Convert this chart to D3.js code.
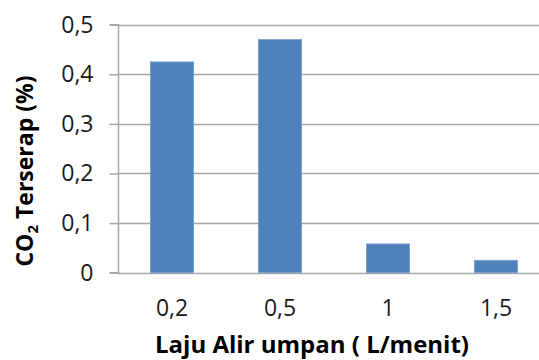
<!DOCTYPE html>
<html>
<head>
<meta charset="utf-8">
<script src="https://cdn.jsdelivr.net/npm/d3@7"></script>
<style>
  html, body { margin: 0; padding: 0; background: #fff; }
  svg { display: block; }
</style>
</head>
<body>
<svg id="chart" width="539" height="360"></svg>
<script>
// Flow rate categories (L/menit) and absorbed CO2 (%)
const categories = ["0,2", "0,5", "1", "1,5"];
const values = [0.425, 0.47, 0.058, 0.025];
const yTicks = [0, 0.1, 0.2, 0.3, 0.4, 0.5];
const yTickLabels = ["0", "0,1", "0,2", "0,3", "0,4", "0,5"];

const svg = d3.select("#chart");
const font = "'Open Sans', 'Noto Sans', sans-serif";

const plot = { left: 118, right: 550, top: 24.7, bottom: 272.7 };

const x = d3.scaleBand()
  .domain(categories)
  .range([plot.left, plot.right])
  .paddingInner(0.6)
  .paddingOuter(0.3);

const y = d3.scaleLinear()
  .domain([0, 0.5])
  .range([plot.bottom, plot.top]);

// Horizontal gridlines
svg.append("g")
  .selectAll("line")
  .data(yTicks)
  .join("line")
  .attr("x1", plot.left)
  .attr("x2", plot.right)
  .attr("y1", d => Math.round(y(d)) + 0.5)
  .attr("y2", d => Math.round(y(d)) + 0.5)
  .attr("stroke", "#a6a6a6")
  .attr("stroke-width", 1.5);

// Bars
svg.append("g")
  .selectAll("rect")
  .data(values)
  .join("rect")
  .attr("x", (d, i) => x(categories[i]))
  .attr("y", d => y(d))
  .attr("width", x.bandwidth())
  .attr("height", d => y(0) - y(d))
  .attr("fill", "#4f81bd")
  .attr("stroke", "#7a9fd0")
  .attr("stroke-width", 0.8);

// Y axis with outward ticks
const yAxis = d3.axisLeft(y)
  .tickValues(yTicks)
  .tickFormat((d, i) => yTickLabels[i])
  .tickSize(9)
  .tickPadding(16);

const gy = svg.append("g")
  .attr("transform", `translate(${plot.left + 0.5},0)`)
  .call(yAxis);
gy.select(".domain").attr("stroke", "#a6a6a6").attr("stroke-width", 1.5)
  .attr("d", `M-9,${plot.top}H0V${plot.bottom}H-9`);
gy.selectAll(".tick line").attr("stroke", "#a6a6a6").attr("stroke-width", 1.5);
gy.selectAll(".tick text")
  .attr("font-family", font)
  .attr("font-size", 23)
  .attr("fill", "#1a1a1a");

// X axis labels
const xAxis = d3.axisBottom(x).tickSize(0).tickPadding(27);
const gx = svg.append("g")
  .attr("transform", `translate(0,${plot.bottom})`)
  .call(xAxis);
gx.select(".domain").remove();
gx.selectAll(".tick text")
  .attr("font-family", font)
  .attr("font-size", 23)
  .attr("fill", "#1a1a1a");

// Axis titles
svg.append("text")
  .attr("x", 312)
  .attr("y", 353)
  .attr("text-anchor", "middle")
  .attr("font-family", font)
  .attr("font-weight", "bold")
  .attr("font-size", 24)
  .attr("fill", "#000")
  .text("Laju Alir umpan ( L/menit)");

const yTitle = svg.append("text")
  .attr("transform", "translate(33,171) rotate(-90)")
  .attr("text-anchor", "middle")
  .attr("font-family", font)
  .attr("font-weight", "bold")
  .attr("font-size", 23)
  .attr("fill", "#000");
yTitle.append("tspan").text("CO");
yTitle.append("tspan").attr("font-size", 15).attr("dy", 5).text("2");
yTitle.append("tspan").attr("dy", -5).text(" Terserap (%)");
</script>
</body>
</html>
